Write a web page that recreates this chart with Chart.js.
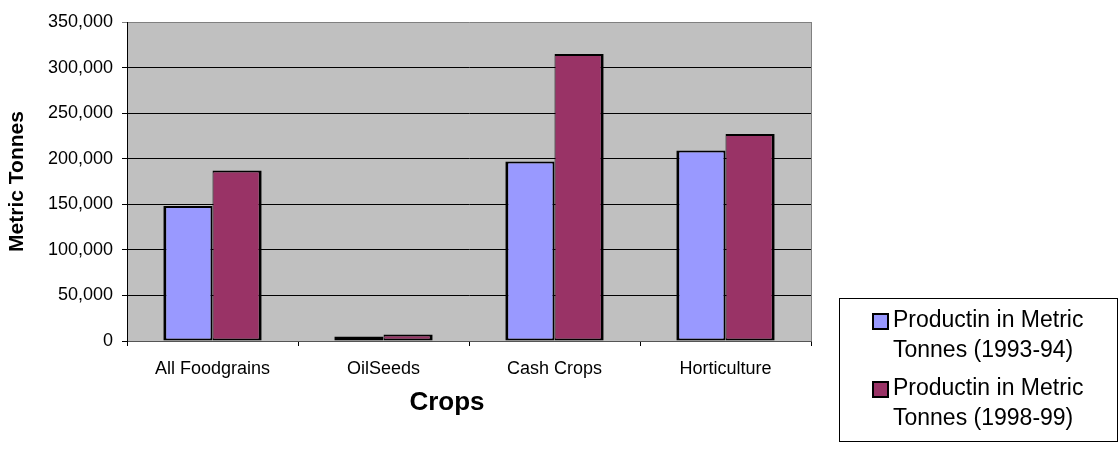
<!DOCTYPE html>
<html>
<head>
<meta charset="utf-8">
<title>Crop Production</title>
<script src="https://cdn.jsdelivr.net/npm/chart.js@4.4.1/dist/chart.umd.min.js"></script>
<style>
  html, body { margin: 0; padding: 0; background: #ffffff; }
  #wrap { width: 1119px; height: 451px; position: relative; }
</style>
</head>
<body>
<div id="wrap"><canvas id="chart" width="1119" height="451"></canvas></div>
<script>
// Production figures by crop group
const categories = ['All Foodgrains', 'OilSeeds', 'Cash Crops', 'Horticulture'];
const seriesNames = [
  'Productin in Metric Tonnes (1993-94)',
  'Productin in Metric Tonnes (1998-99)'
];
const production1993 = [148000, 5000, 197000, 209000];
const production1998 = [187000, 7000, 315000, 227000];
const yTicks = [0, 50000, 100000, 150000, 200000, 250000, 300000, 350000];
const xTitle = 'Crops';
const yTitle = 'Metric Tonnes';

const FONT = "'Liberation Sans', Arial, Helvetica, sans-serif";

// Grey plot background behind the bars, plus the right-hand frame edge
const plotBackground = {
  id: 'plotBackground',
  beforeDraw(chart) {
    const { ctx, chartArea: a } = chart;
    ctx.save();
    ctx.fillStyle = '#C0C0C0';
    ctx.fillRect(a.left, a.top, a.right - a.left, a.bottom - a.top);
    ctx.restore();
  },
  afterDraw(chart) {
    const { ctx, chartArea: a } = chart;
    ctx.save();
    ctx.strokeStyle = '#808080';
    ctx.lineWidth = 1;
    ctx.beginPath();
    ctx.moveTo(a.right + 0.5, a.top);
    ctx.lineTo(a.right + 0.5, a.bottom);
    ctx.stroke();
    ctx.restore();
  }
};

// Category axis title under the tick labels
const xAxisTitle = {
  id: 'xAxisTitle',
  afterDraw(chart) {
    const { ctx } = chart;
    ctx.save();
    ctx.font = 'bold 26px ' + FONT;
    ctx.fillStyle = '#000';
    ctx.textAlign = 'center';
    ctx.textBaseline = 'middle';
    ctx.fillText(xTitle, 447, 403);
    ctx.restore();
  }
};

// Boxed legend with the series names wrapped onto two lines
const boxedLegend = {
  id: 'boxedLegend',
  afterDraw(chart) {
    const { ctx } = chart;
    const box = { x: 839.5, y: 298.5, w: 278, h: 143 };
    ctx.save();
    ctx.fillStyle = '#ffffff';
    ctx.fillRect(box.x, box.y, box.w, box.h);
    ctx.strokeStyle = '#000';
    ctx.lineWidth = 1;
    ctx.strokeRect(box.x, box.y, box.w, box.h);
    ctx.font = '23px ' + FONT;
    ctx.textBaseline = 'middle';
    ctx.textAlign = 'left';
    const lineH = 30;
    let y = 321;
    chart.data.datasets.forEach((ds) => {
      const words = ds.label.split(' ');
      const lines = [];
      let cur = '';
      words.forEach((w) => {
        const t = cur ? cur + ' ' + w : w;
        if (ctx.measureText(t).width > 215 && cur) { lines.push(cur); cur = w; }
        else cur = t;
      });
      if (cur) lines.push(cur);
      ctx.fillStyle = ds.backgroundColor;
      ctx.fillRect(873, y - 7, 15, 15);
      ctx.strokeStyle = '#000';
      ctx.lineWidth = 2;
      ctx.strokeRect(873, y - 7, 15, 15);
      ctx.fillStyle = '#000';
      lines.forEach((ln, i) => {
        ctx.fillText(ln, 893, y + i * lineH);
      });
      y += lines.length * lineH + 8;
    });
    ctx.restore();
  }
};

new Chart(document.getElementById('chart'), {
  type: 'bar',
  data: {
    labels: categories,
    datasets: [
      {
        label: seriesNames[0],
        data: production1993,
        backgroundColor: '#9999FF',
        borderColor: '#000000',
        borderWidth: { top: 2, left: 3, right: 2, bottom: 2 },
        borderSkipped: false
      },
      {
        label: seriesNames[1],
        data: production1998,
        backgroundColor: '#993366',
        borderColor: '#000000',
        borderWidth: { top: 2, left: 1, right: 3, bottom: 2 },
        borderSkipped: false
      }
    ]
  },
  options: {
    responsive: false,
    animation: false,
    devicePixelRatio: 1,
    layout: { padding: { left: 0, top: 22, right: 308, bottom: 0 } },
    datasets: { bar: { categoryPercentage: 0.575, barPercentage: 1.0 } },
    plugins: {
      legend: { display: false },
      tooltip: { enabled: true }
    },
    scales: {
      x: {
        grid: {
          offset: true,
          drawOnChartArea: false,
          drawTicks: true,
          tickLength: 5,
          color: '#000000'
        },
        border: { display: true, color: '#555555', width: 1 },
        ticks: {
          color: '#000000',
          padding: 12,
          font: { family: FONT, size: 18 }
        },
        afterFit(scale) { scale.height = 110; }
      },
      y: {
        min: 0,
        max: 350000,
        afterBuildTicks(scale) { scale.ticks = yTicks.map(v => ({ value: v })); },
        grid: {
          color: (c) => (c.tick && c.tick.value === 350000) ? '#808080' : '#000000',
          lineWidth: 1,
          tickLength: 5,
          drawTicks: true
        },
        border: { display: true, color: '#000000', width: 1 },
        ticks: {
          color: '#000000',
          padding: 9,
          font: { family: FONT, size: 18 },
          callback: (v) => v.toLocaleString('en-US')
        },
        title: {
          display: true,
          text: yTitle,
          color: '#000000',
          font: { family: FONT, size: 21, weight: 'bold' },
          padding: { top: 5, bottom: 0 }
        },
        afterFit(scale) { scale.width = 127; }
      }
    }
  },
  plugins: [plotBackground, xAxisTitle, boxedLegend]
});
</script>
</body>
</html>
